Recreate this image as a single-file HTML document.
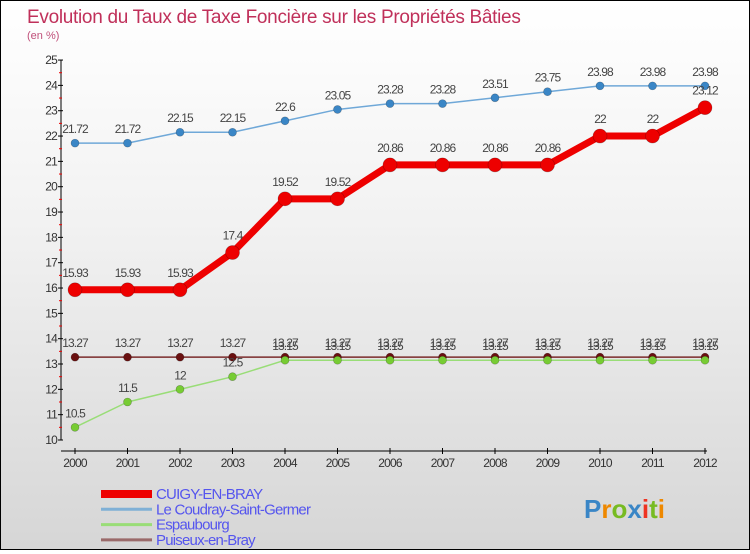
<!DOCTYPE html>
<html><head><meta charset="utf-8"><style>
body{margin:0;width:750px;height:550px;overflow:hidden;font-family:"Liberation Sans",sans-serif}
#wrap{position:relative;width:748px;height:548px;border:1px solid #000;background:linear-gradient(#fff,#f2f2f2 40%,#d6d6d6)}
</style></head><body>
<div id="wrap">
<svg id="chart" width="748" height="548"></svg>
</div>
<script>
const years=[2000,2001,2002,2003,2004,2005,2006,2007,2008,2009,2010,2011,2012];
const cuigy=[15.93,15.93,15.93,17.4,19.52,19.52,20.86,20.86,20.86,20.86,22,22,23.12];
const coudray=[21.72,21.72,22.15,22.15,22.6,23.05,23.28,23.28,23.51,23.75,23.98,23.98,23.98];
const espaubourg=[10.5,11.5,12,12.5,13.15,13.15,13.15,13.15,13.15,13.15,13.15,13.15,13.15];
const puiseux=[13.27,13.27,13.27,13.27,13.27,13.27,13.27,13.27,13.27,13.27,13.27,13.27,13.27];
const yTicks=[10,11,12,13,14,15,16,17,18,19,20,21,22,23,24,25];
const seriesNames=["CUIGY-EN-BRAY","Le Coudray-Saint-Germer","Espaubourg","Puiseux-en-Bray"];

const NS="http://www.w3.org/2000/svg";
const svg=document.getElementById('chart');
function X(i){return 74+i*52.5;}
function Y(v){return 439-(v-10)*25.33;}
function el(t,a,p){const e=document.createElementNS(NS,t);for(const k in a)e.setAttribute(k,a[k]);(p||svg).appendChild(e);return e;}
function txt(s,x,y,a){const e=el('text',Object.assign({x:x,y:y,'font-family':'Liberation Sans, sans-serif'},a));e.textContent=s;return e;}

let t=txt('Evolution du Taux de Taxe Foncière sur les Propriétés Bâties',26,22,{'font-size':19,fill:'#c0305a','letter-spacing':'-0.3'});


t=txt('(en %)',26,38,{'font-size':11,fill:'#c0507a'});



let ax=el('line',{x1:60,y1:Y(25),x2:60,y2:Y(10),stroke:'#000','stroke-width':1});


ax=el('line',{x1:60,y1:450,x2:X(12)+2,y2:450,stroke:'#000','stroke-width':1});


yTicks.forEach(v=>{
  el('line',{x1:57,y1:Y(v),x2:62,y2:Y(v),stroke:'#000'});
  if(v<25)el('line',{x1:58,y1:Y(v+0.5),x2:61,y2:Y(v+0.5),stroke:'#e00'});
  const l=txt(String(v),56,Y(v)+4,{'font-size':12,fill:'#333','text-anchor':'end','letter-spacing':'-0.8'});
  
  
});
years.forEach((yr,i)=>{
  el('line',{x1:X(i),y1:447,x2:X(i),y2:453,stroke:'#000'});
  const l=txt(String(yr),X(i),466,{'font-size':12,fill:'#333','text-anchor':'middle','letter-spacing':'-0.8'});
  
  
});

function series(vals,color,w,r,fill,name){
  const g=el('g',{});
  
  
  el('polyline',{points:vals.map((v,i)=>X(i)+','+Y(v)).join(' '),fill:'none',stroke:color,'stroke-width':w,'stroke-linejoin':'round'},g);
  vals.forEach((v,i)=>{
    const c=el('circle',{cx:X(i),cy:Y(v),r:r,fill:fill,stroke:'rgba(0,0,0,0.3)','stroke-width':0.6},g);
    
    
    const l=txt(String(v),X(i),Y(v)-(r+6),{'font-size':12,fill:'#444','text-anchor':'middle','letter-spacing':'-0.9'},g);
    
    
  });
}
series(puiseux,'#7a2b2b',1.5,4,'#6a1010','series-puiseux');
series(espaubourg,'#99dd77',1.5,4,'#77cc33','series-espaubourg');
series(coudray,'#6fa8d8',1.5,4,'#3a86c6','series-coudray');
series(cuigy,'#ee0000',7,7,'#ee0000','series-cuigy');

const lc=[['#ee0000',8],['#7fb0d6',3],['#99dd77',3],['#9a6a6a',3]];
seriesNames.forEach((n,i)=>{
  const y=493+i*15.3;
  const g=el('g',{});
  
  
  el('line',{x1:100,y1:y,x2:151,y2:y,stroke:lc[i][0],'stroke-width':lc[i][1]},g);
  txt(n,155,y+5,{'font-size':15,fill:'#5555ee','letter-spacing':'-0.8'},g);
});
const lg=txt('',583,517,{'font-size':26,'font-weight':'bold'});


[['P','#3a86c6'],['r','#ee8800'],['o','#77bb22'],['x','#3a86c6'],['i','#ee3322'],['t','#77bb22'],['i','#ee8800']].forEach(([c,f])=>{
  const s=el('tspan',{fill:f},lg);s.textContent=c;
});
</script>
</body></html>
